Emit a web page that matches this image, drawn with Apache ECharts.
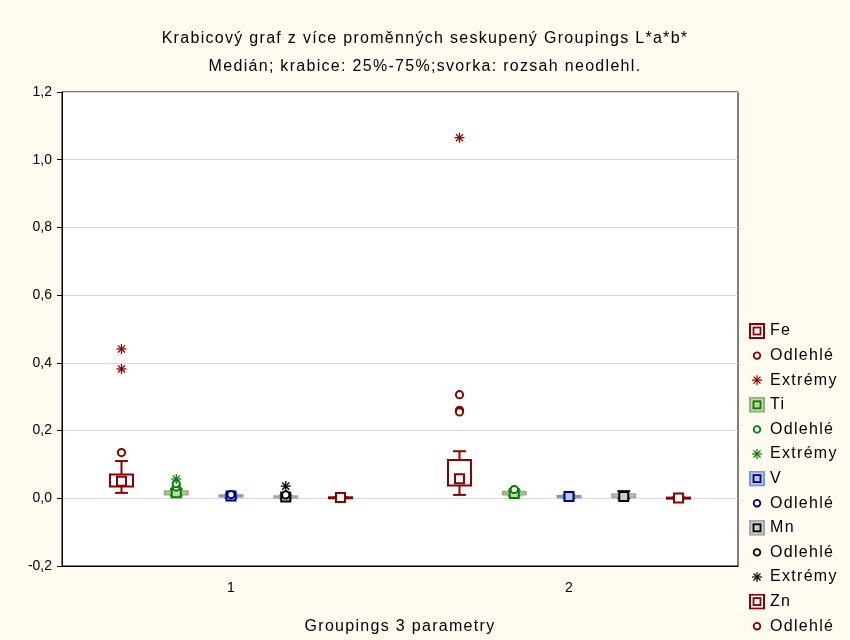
<!DOCTYPE html>
<html><head><meta charset="utf-8">
<script src="https://cdn.jsdelivr.net/npm/echarts@6/dist/echarts.min.js"></script>
<style>html,body{margin:0;padding:0;background:#fffbf0}#c{width:850px;height:640px}</style>
</head><body><div id="c"></div>
<script>
// ---------- data ----------
const categories = ['1', '2'];
// box stats per group: [low whisker, Q1, median, Q3, high whisker]
const feBox = [[0.016, 0.035, 0.050, 0.070, 0.110], [0.010, 0.038, 0.058, 0.113, 0.139]];
const feOutliers = [[0.135], [0.306, 0.260, 0.255]];
const feExtremes = [[0.441, 0.382], [1.065]];
const tiBox = [[0.008, 0.011, 0.016, 0.021, 0.027], [0.008, 0.011, 0.014, 0.019, 0.022]];
const tiOutliers = [[0.033, 0.043], [0.026]];
const tiExtremes = [[0.057], []];
const vBox = [[0.002, 0.005, 0.007, 0.009, 0.011], [0.001, 0.003, 0.005, 0.007, 0.009]];
const vOutliers = [[0.011], []];
const mnBox = [[0.000, 0.002, 0.004, 0.006, 0.008], [0.000, 0.003, 0.005, 0.012, 0.021]];
const mnOutliers = [[0.010], []];
const mnExtremes = [[0.036], []];
const znBox = [[0.000, 0.001, 0.002, 0.003, 0.004], [0.000, 0.000, 0.001, 0.002, 0.003]];
const znOutliers = [[], []];

// ---------- text rendering: slightly tracked 16px text, as in the original ----------
(function () {
  const P = CanvasRenderingContext2D.prototype;
  const of = P.fillText;
  P.fillText = function (t, x, y, w) {
    if ('letterSpacing' in this) this.letterSpacing = /(^|\s)16px/.test(this.font) ? '1.3px' : '0px';
    return w === undefined ? of.call(this, t, x, y) : of.call(this, t, x, y, w);
  };
})();

// ---------- layout / style ----------
const FONT = 'Liberation Sans, Arial, sans-serif';
const SLOT = 0.162, BOX_FRAC = 0.068, CAP_FRAC = 0.038, MED = 9;
const ZW = n => '\u200b'.repeat(n);

const styles = {
  Fe: {fill: '#ffffff', border: '#8b0000', line: '#8b0000'},
  Ti: {fill: '#c6d6a8', border: '#9aae7c', line: '#008000'},
  V:  {fill: '#bccbe4', border: '#7f99c6', line: '#00008b'},
  Mn: {fill: '#cccccc', border: '#a6a6a6', line: '#000000'},
  Zn: {fill: '#ffffff', border: '#8b0000', line: '#8b0000'}
};

function boxRender(slot, st) {
  return function (params, api) {
    const cat = api.value(0);
    const band = api.size([1, 0])[0];
    const cx = api.coord([cat, 0])[0] + band * SLOT * slot;
    const y = k => api.coord([cat, api.value(k)])[1];
    const yLow = y(1), yQ1 = y(2), yMed = y(3), yQ3 = y(4), yHigh = y(5);
    const hw = band * BOX_FRAC / 2, cap = band * CAP_FRAC / 2, m = MED / 2;
    const ls = {stroke: st.line, lineWidth: 2};
    return {type: 'group', children: [
      {type: 'line', shape: {x1: cx, y1: yQ3, x2: cx, y2: yHigh}, style: ls},
      {type: 'line', shape: {x1: cx - cap, y1: yHigh, x2: cx + cap, y2: yHigh}, style: ls},
      {type: 'line', shape: {x1: cx, y1: yQ1, x2: cx, y2: yLow}, style: ls},
      {type: 'line', shape: {x1: cx - cap, y1: yLow, x2: cx + cap, y2: yLow}, style: ls},
      {type: 'rect', shape: {x: cx - hw, y: yQ3, width: 2 * hw, height: Math.max(yQ1 - yQ3, 1)},
        style: {fill: st.fill, stroke: st.border, lineWidth: 2}},
      {type: 'rect', shape: {x: cx - m, y: yMed - m, width: 2 * m, height: 2 * m},
        style: {fill: st.fill, stroke: st.line, lineWidth: 2}}
    ]};
  };
}
function circleRender(slot, color) {
  return function (params, api) {
    const cat = api.value(0);
    const band = api.size([1, 0])[0];
    const p = api.coord([cat, api.value(1)]);
    return {type: 'circle', shape: {cx: p[0] + band * SLOT * slot, cy: p[1], r: 3.6},
      style: {fill: '#ffffff', stroke: color, lineWidth: 2}};
  };
}
function starRender(slot, color) {
  return function (params, api) {
    const cat = api.value(0);
    const band = api.size([1, 0])[0];
    const p = api.coord([cat, api.value(1)]);
    const x = p[0] + band * SLOT * slot, yy = p[1], r = 5, d = 3.6;
    const ls = {stroke: color, lineWidth: 1.3};
    return {type: 'group', children: [
      {type: 'line', shape: {x1: x, y1: yy - r, x2: x, y2: yy + r}, style: ls},
      {type: 'line', shape: {x1: x - r, y1: yy, x2: x + r, y2: yy}, style: ls},
      {type: 'line', shape: {x1: x - d, y1: yy - d, x2: x + d, y2: yy + d}, style: ls},
      {type: 'line', shape: {x1: x - d, y1: yy + d, x2: x + d, y2: yy - d}, style: ls}
    ]};
  };
}
const boxData = arr => arr.map((b, i) => [i].concat(b));
const ptData = arr => arr.flatMap((g, i) => g.map(v => [i, v]));

function svgIcon(body) {
  return 'image://data:image/svg+xml;charset=utf-8,' + encodeURIComponent(
    '<svg xmlns="http://www.w3.org/2000/svg" width="16" height="16" viewBox="0 0 16 16">' + body + '</svg>');
}
const boxIcon = st => svgIcon(
  '<rect x="1" y="1" width="14" height="14" fill="' + st.fill + '" stroke="' + st.border + '" stroke-width="2"/>' +
  '<rect x="4.5" y="4.5" width="7" height="7" fill="' + st.fill + '" stroke="' + st.line + '" stroke-width="1.8"/>');
const circleIcon = c => svgIcon('<circle cx="8" cy="8" r="3.3" fill="#fff" stroke="' + c + '" stroke-width="1.8"/>');
const starIcon = c => svgIcon('<g stroke="' + c + '" stroke-width="1.2">' +
  '<line x1="8" y1="3" x2="8" y2="13"/><line x1="3" y1="8" x2="13" y2="8"/>' +
  '<line x1="4.5" y1="4.5" x2="11.5" y2="11.5"/><line x1="4.5" y1="11.5" x2="11.5" y2="4.5"/></g>');

const series = [];
const legendData = [];
function addBox(name, slot, box, st) {
  series.push({type: 'custom', name: name, renderItem: boxRender(slot, st), data: boxData(box),
    encode: {x: 0, y: [1, 2, 3, 4, 5]}, z: 2});
  legendData.push({name: name, icon: boxIcon(st)});
}
function addOut(name, slot, pts, color) {
  series.push({type: 'custom', name: name, renderItem: circleRender(slot, color), data: ptData(pts),
    encode: {x: 0, y: 1}, z: 3});
  legendData.push({name: name, icon: circleIcon(color)});
}
function addExt(name, slot, pts, color) {
  series.push({type: 'custom', name: name, renderItem: starRender(slot, color), data: ptData(pts),
    encode: {x: 0, y: 1}, z: 3});
  legendData.push({name: name, icon: starIcon(color)});
}
addBox('Fe', -2, feBox, styles.Fe);
addOut('Odlehlé' + ZW(1), -2, feOutliers, '#8b0000');
addExt('Extrémy' + ZW(1), -2, feExtremes, '#8b0000');
addBox('Ti', -1, tiBox, styles.Ti);
addOut('Odlehlé' + ZW(2), -1, tiOutliers, '#008000');
addExt('Extrémy' + ZW(2), -1, tiExtremes, '#008000');
addBox('V', 0, vBox, styles.V);
addOut('Odlehlé' + ZW(3), 0, vOutliers, '#00008b');
addBox('Mn', 1, mnBox, styles.Mn);
addOut('Odlehlé' + ZW(4), 1, mnOutliers, '#000000');
addExt('Extrémy' + ZW(3), 1, mnExtremes, '#000000');
addBox('Zn', 2, znBox, styles.Zn);
addOut('Odlehlé' + ZW(5), 2, znOutliers, '#8b0000');

const chart = echarts.init(document.getElementById('c'), null, {renderer: 'canvas'});
chart.setOption({
  backgroundColor: '#fffbf0',
  animation: false,
  textStyle: {fontFamily: FONT},
  title: {
    text: 'Krabicový graf z více proměnných seskupený Groupings L*a*b*',
    subtext: 'Medián; krabice: 25%-75%;svorka: rozsah neodlehl.',
    left: 'center', top: 31, itemGap: 12, padding: [0, 0, 0, 10],
    textStyle: {fontFamily: FONT, fontSize: 16, fontWeight: 'normal', color: '#000'},
    subtextStyle: {fontFamily: FONT, fontSize: 16, color: '#000'}
  },
  legend: {
    orient: 'vertical', left: 749, top: 323, padding: 0, itemWidth: 16, itemHeight: 16, itemGap: 8.6,
    selectedMode: false, data: legendData,
    formatter: n => n.replace(/\u200b/g, ''),
    textStyle: {fontFamily: FONT, fontSize: 16, color: '#000'}
  },
  grid: {left: 62, right: 112, top: 92, bottom: 73, show: true, backgroundColor: '#ffffff',
    borderColor: '#000', borderWidth: 1},
  xAxis: {
    type: 'category', data: categories, boundaryGap: true,
    name: 'Groupings 3 parametry', nameLocation: 'middle', nameGap: 53,
    nameTextStyle: {fontFamily: FONT, fontSize: 16, color: '#000'},
    axisLine: {onZero: false, lineStyle: {color: '#000', width: 1}},
    axisTick: {alignWithLabel: true, length: 5, lineStyle: {color: '#000'}},
    axisLabel: {fontFamily: FONT, fontSize: 14, color: '#000', margin: 15}
  },
  yAxis: {
    type: 'value', min: -0.2, max: 1.2, interval: 0.2,
    axisLine: {show: true, lineStyle: {color: '#000', width: 1}},
    axisTick: {show: true, length: 5, lineStyle: {color: '#000'}},
    axisLabel: {fontFamily: FONT, fontSize: 14, color: '#000', margin: 10,
      formatter: v => v.toFixed(1).replace('.', ',')},
    splitLine: {lineStyle: {color: '#d6d6d6', width: 1}}
  },
  series: series
});
</script></body></html>
